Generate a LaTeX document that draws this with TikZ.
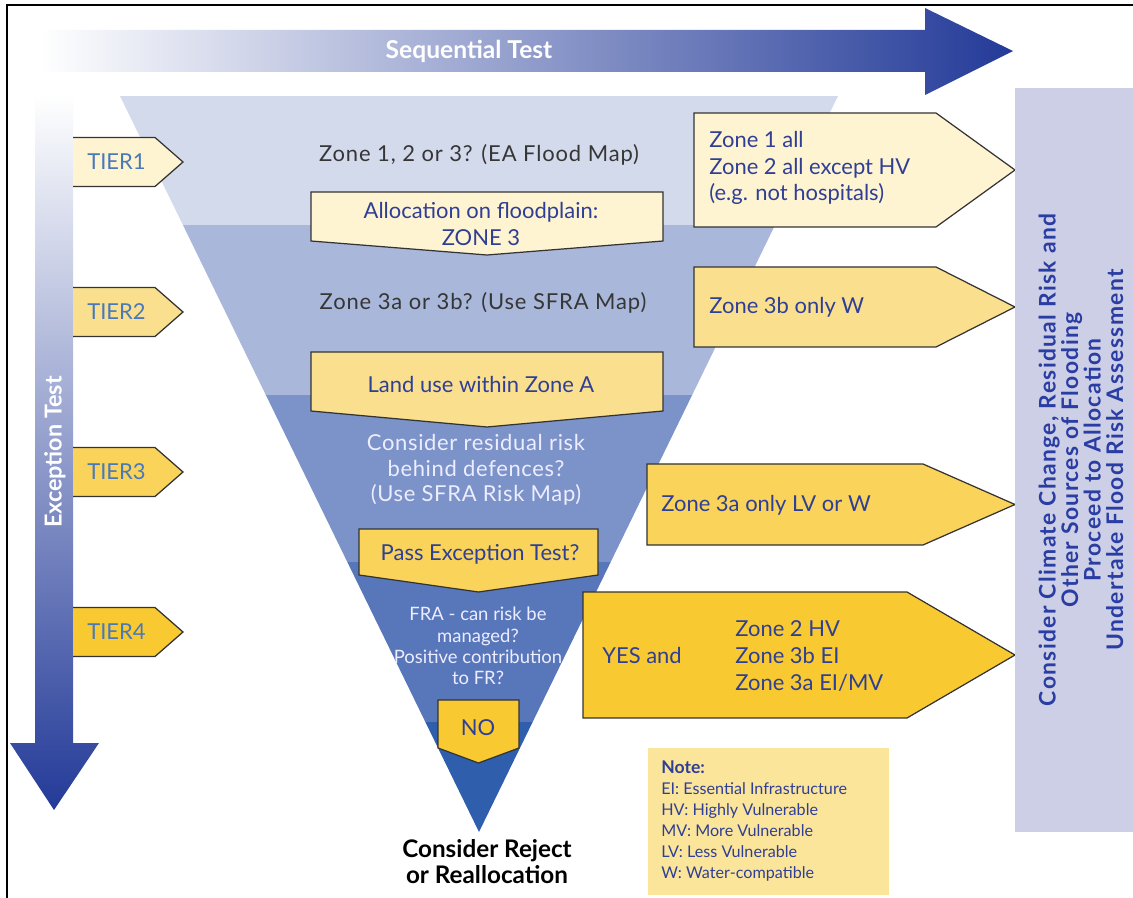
\documentclass[tikz,border=0pt]{standalone}
\usepackage{fontspec}
\setmainfont{Lato}

\definecolor{arrowblue}{HTML}{233A98}
\definecolor{bandA}{HTML}{D3DAEC}
\definecolor{bandB}{HTML}{A8B7DA}
\definecolor{bandC}{HTML}{7C93C9}
\definecolor{bandD}{HTML}{5877BB}
\definecolor{bandE}{HTML}{2F5EAD}
\definecolor{cream}{HTML}{FFF4D2}
\definecolor{paleyellow}{HTML}{FAE08E}
\definecolor{midyellow}{HTML}{F9D35A}
\definecolor{deepyellow}{HTML}{F8C930}
\definecolor{noteyellow}{HTML}{FBE59A}
\definecolor{panelgrey}{HTML}{CDCFE6}
\definecolor{inkblue}{HTML}{2F3F95}
\definecolor{panelblue}{HTML}{2A3DA3}
\definecolor{tierblue}{HTML}{4A79BA}
\definecolor{inkgrey}{HTML}{363636}

\tikzset{
  boxline/.style={draw=black!80,line width=0.7pt,line join=miter},
  tiertext/.style={text=tierblue,anchor=west,inner sep=0pt},
  boxtext/.style={text=inkblue,align=center,inner sep=0pt},
  listtext/.style={text=inkblue,align=left,anchor=west,inner sep=0pt,
    font=\fontsize{12.5}{15.3}\selectfont},
  greytext/.style={text=inkgrey,inner sep=0pt,
    font=\fontsize{12.5}{15}\selectfont\addfontfeature{LetterSpace=4}},
  whitetext/.style={text=white!93!blue,align=center,inner sep=0pt}
}

\begin{document}
\begin{tikzpicture}[x=0.02cm,y=-0.02cm,font=\fontsize{12.5}{15}\selectfont]
    \useasboundingbox (0,0) rectangle (1133,898);

    % frame
    \draw[line width=1.3pt] (7,898) -- (7,5) -- (1133,5);

    % sequential test arrow
    \shade[left color=white,right color=arrowblue]
        (40,30) -- (925,30) -- (925,8) -- (1013,51) -- (925,95)
        -- (925,72) -- (40,72) -- cycle;
    \node[text=white,font=\fontsize{14}{16}\bfseries] (seqtest) at (469,51) {Sequential Test};

    % exception test arrow
    \shade[top color=white,bottom color=arrowblue]
        (35,95) -- (73,95) -- (73,743) -- (99,743) -- (54,810)
        -- (10,743) -- (35,743) -- cycle;
    \node[text=white,rotate=90,font=\fontsize{13.3}{15}\bfseries] (exctest) at (55,452) {Exception Test};

    % funnel
    \begin{scope}
        \clip (120,96) -- (838,96) -- (479,832) -- cycle;
        \fill[bandA] (100,96) rectangle (860,225);
        \fill[bandB] (100,225) rectangle (860,395);
        \fill[bandC] (100,395) rectangle (860,562);
        \fill[bandD] (100,562) rectangle (860,722);
        \fill[bandE] (100,722) rectangle (860,840);
    \end{scope}

    % tiers
    \foreach \yc/\lab/\col in
        {162/TIER1/cream,312/TIER2/paleyellow,472/TIER3/midyellow,632/TIER4/deepyellow}
    {
        \filldraw[boxline,fill=\col] (73,\yc-24.5) -- (155,\yc-24.5) -- (183,\yc)
            -- (155,\yc+24.5) -- (73,\yc+24.5);
        \node[tiertext] (\lab) at (87,\yc) {\lab};
    }

    % down-pointing boxes inside the funnel
    \foreach \l/\r/\t/\sb/\pb/\col in
        {311/663/192/241/255/cream,311/663/352/411/427/paleyellow,
         359/598/529/575/592/midyellow,438/519/700/748/763/deepyellow}
    {
        \filldraw[boxline,fill=\col] (\l,\t) -- (\r,\t) -- (\r,\sb)
            -- ({(\l+\r)/2},\pb) -- (\l,\sb) -- cycle;
    }

    \node[greytext] (qzone) at (479,155) {Zone 1, 2 or 3? (EA Flood Map)};
    \node[boxtext,font=\fontsize{12.5}{15.5}\selectfont] (alloc) at (481,224)
        {Allocation on floodplain:\\ZONE 3};
    \node[greytext] (qsub) at (483,303) {Zone 3a or 3b? (Use SFRA Map)};
    \node[boxtext] (landuse) at (481,385) {Land use within Zone A};
    \node[whitetext,font=\fontsize{12.5}{14.4}\selectfont\addfontfeature{LetterSpace=3}] (resid) at (476,470)
        {Consider residual risk\\behind defences?\\(Use SFRA Risk Map)};
    \node[boxtext] (passex) at (480,554) {Pass Exception Test?};
    \node[whitetext,font=\fontsize{10.5}{12.2}\selectfont] (fra) at (478,646)
        {FRA - can risk be\\managed?\\Positive contribution\\to FR?};
    \node[boxtext] (nobox) at (478,728) {NO};
    \node[align=center,inner sep=0pt,font=\fontsize{13.8}{14.7}\bfseries] (reject) at (487,862)
        {Consider Reject\\or Reallocation};

    % outcome arrows
    \foreach \l/\t/\b/\r/\col in
        {694/113/227/936/cream,694/267/347/936/paleyellow,
         647/464/545/923/midyellow,583/592/718/907/deepyellow}
    {
        \filldraw[boxline,fill=\col] (\l,\t) -- (\r,\t) -- (1015,{(\t+\b)/2})
            -- (\r,\b) -- (\l,\b) -- cycle;
    }
    \node[listtext] (outone) at (709,168)
        {Zone 1 all\\Zone 2 all except HV\\(e.g. not hospitals)};
    \node[listtext] (outtwo) at (709,307) {Zone 3b only W};
    \node[listtext] (outthree) at (661,505) {Zone 3a only LV or W};
    \node[listtext] (yes) at (602,655) {YES and};
    \node[listtext,font=\fontsize{12.5}{15.4}\selectfont] (outfour) at (735,656)
        {Zone 2 HV\\Zone 3b EI\\Zone 3a EI/MV};

    % side panel
    \fill[panelgrey] (1015,88) rectangle (1133,832);
    \node[text=panelblue,rotate=90,align=center,inner sep=0pt,
        font=\fontsize{13}{12.8}\bfseries\addfontfeature{LetterSpace=6}] (panel) at (1081,460)
        {Consider Climate Change, Residual Risk and\\Other Sources of Flooding\\
         Proceed to Allocation\\Undertake Flood Risk Assessment};

    % note
    \fill[noteyellow] (648,748) rectangle (889,895);
    \node[text=inkblue,align=left,anchor=west,inner sep=0pt,
        font=\fontsize{9.2}{12}\selectfont] (note) at (661,821)
        {{\fontsize{10}{12}\bfseries Note:}\\EI: Essential Infrastructure\\
         HV: Highly Vulnerable\\MV: More Vulnerable\\LV: Less Vulnerable\\
         W: Water-compatible};
\end{tikzpicture}
\end{document}
